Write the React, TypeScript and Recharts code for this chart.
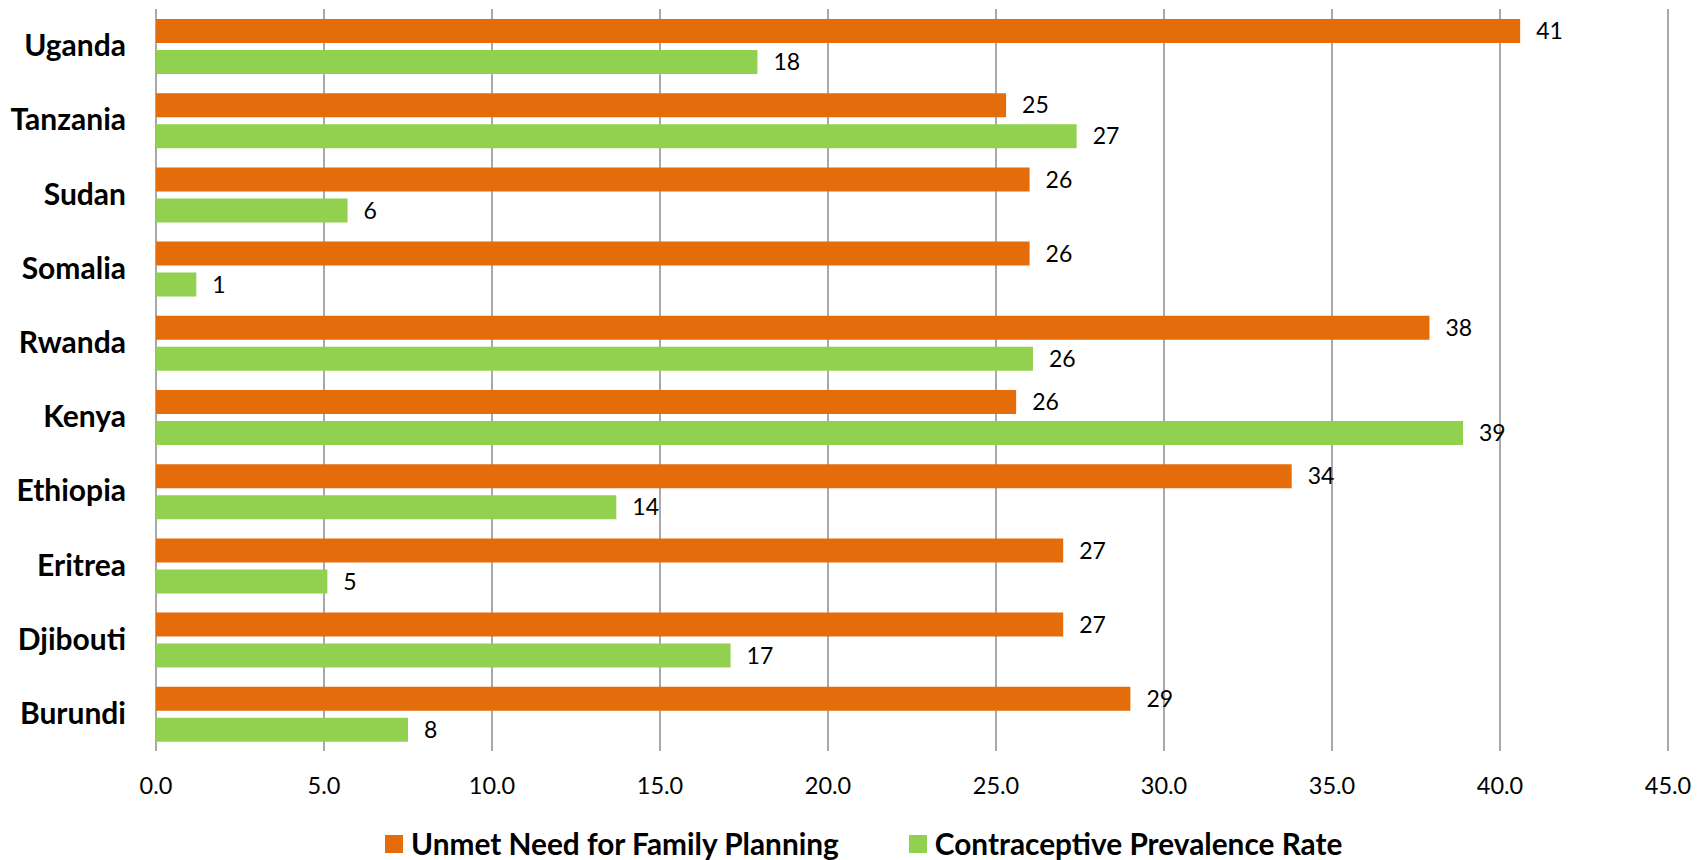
import React from "react";
import {
  BarChart,
  Bar,
  XAxis,
  YAxis,
  CartesianGrid,
  LabelList,
} from "recharts";

const countries = [
  "Uganda",
  "Tanzania",
  "Sudan",
  "Somalia",
  "Rwanda",
  "Kenya",
  "Ethiopia",
  "Eritrea",
  "Djibouti",
  "Burundi",
];
const unmetNeed = [40.6, 25.3, 26.0, 26.0, 37.9, 25.6, 33.8, 27.0, 27.0, 29.0];
const prevalence = [17.9, 27.4, 5.7, 1.2, 26.1, 38.9, 13.7, 5.1, 17.1, 7.5];
const xTicks = [0, 5, 10, 15, 20, 25, 30, 35, 40, 45];

const seriesNames = ["Unmet Need for Family Planning", "Contraceptive Prevalence Rate"];
const colors = ["#E46C0A", "#92D050"];

const FONT = "Lato, 'Liberation Sans', sans-serif";

const data = countries.map((c, i) => ({
  country: c,
  unmet: unmetNeed[i],
  cpr: prevalence[i],
}));

function CountryTick(props: any) {
  const { y, payload } = props;
  return (
    <text
      x={126}
      y={y}
      dy={10}
      textAnchor="end"
      fontFamily={FONT}
      fontWeight={700}
      fontSize={30}
      fill="#000"
    >
      {payload.value}
    </text>
  );
}

function ValueTick(props: any) {
  const { x, y, payload } = props;
  return (
    <text
      x={x}
      y={y}
      dy={35}
      textAnchor="middle"
      fontFamily={FONT}
      fontSize={23.5}
      fill="#000"
    >
      {Number(payload.value).toFixed(1)}
    </text>
  );
}

export default function App() {
  return (
    <div style={{ position: "absolute", left: 0, top: 0, width: 1707, height: 860, background: "#fff" }}>
      <BarChart
        width={1707}
        height={860}
        data={data}
        layout="vertical"
        margin={{ top: 9, right: 39, bottom: 79, left: 0 }}
        barSize={24}
        barGap={7}
      >
        <CartesianGrid horizontal={false} stroke="#8c8c8c" strokeWidth={1.5} />
        <XAxis
          type="number"
          domain={[0, 45]}
          ticks={xTicks}
          axisLine={false}
          tickLine={false}
          height={30}
          tick={<ValueTick />}
          interval={0}
        />
        <YAxis
          type="category"
          dataKey="country"
          width={156}
          axisLine={false}
          tickLine={false}
          tick={<CountryTick />}
          interval={0}
        />
        <Bar dataKey="unmet" fill={colors[0]} isAnimationActive={false}>
          <LabelList
            dataKey="unmet"
            position="right"
            offset={16}
            formatter={(v: any) => Math.round(Number(v))}
            style={{ fontFamily: FONT, fontSize: 23, fill: "#000" }}
          />
        </Bar>
        <Bar dataKey="cpr" fill={colors[1]} isAnimationActive={false}>
          <LabelList
            dataKey="cpr"
            position="right"
            offset={16}
            formatter={(v: any) => Math.round(Number(v))}
            style={{ fontFamily: FONT, fontSize: 23, fill: "#000" }}
          />
        </Bar>
      </BarChart>
      <div
        style={{
          position: "absolute",
          left: 385,
          top: 826,
          display: "flex",
          alignItems: "center",
          fontFamily: FONT,
          fontWeight: 700,
          fontSize: 29.8,
          color: "#000",
          whiteSpace: "nowrap",
        }}
      >
        {seriesNames.map((name, i) => (
          <div key={name} style={{ display: "flex", alignItems: "center", marginRight: i === 0 ? 70 : 0 }}>
            <span style={{ width: 18, height: 18, background: colors[i], marginRight: 8, display: "inline-block" }} />
            <span>{name}</span>
          </div>
        ))}
      </div>
    </div>
  );
}
